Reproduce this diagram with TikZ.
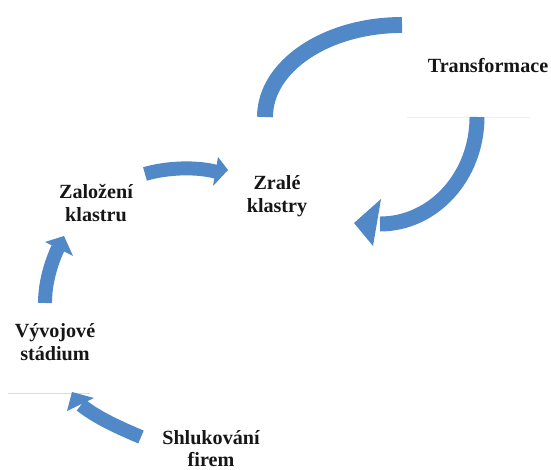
\documentclass[tikz,border=0pt]{standalone}
\usepackage{fontspec}
\setmainfont{Liberation Serif}
\definecolor{arrowblue}{RGB}{80,136,200}
\definecolor{labelink}{RGB}{22,22,22}
\definecolor{guideblue}{RGB}{205,222,242}
\definecolor{guidegrey}{RGB}{238,238,238}
\tikzset{
  stagetext/.style={font=\bfseries\fontsize{20.2}{23}\selectfont, text=labelink,
                    align=center, inner sep=0pt},
  shaft/.style={draw=arrowblue, line width=#1, line cap=butt},
  arrowhead/.style={fill=arrowblue, draw=none},
  guide/.style={draw=#1, line width=0.8bp},
}
\begin{document}
\begin{tikzpicture}[x=1bp,y=-1bp]
\useasboundingbox (0,0) rectangle (551,470);

% stage labels
\node[stagetext] (transf) at (488,65.2) {Transformace};
\node[stagetext] (zrale)  at (277,196.6) {Zralé\\klastry};
\node[stagetext] (zalo)   at (96,203) {Založení\\klastru};
\node[stagetext] (vyvoj)  at (55,342) {Vývojové\\stádium};
\node[stagetext] (shluk)  at (211,448.6) {Shlukování\\firem};

% faint text-box rules
\coordinate (gA) at (8,393);   \coordinate (gB) at (90,393);
\coordinate (gC) at (407,117); \coordinate (gD) at (530,117);
\draw[guide=guideblue] (gA) -- (gB);
\draw[guide=guidegrey] (gC) -- (gD);

% open arc above the mature clusters
\coordinate (arcTop) at (402,25);
\draw[shaft=16] (arcTop) arc[start angle=-90, end angle=-180, x radius=137, y radius=92];

% Transformace -> Zrale klastry
\coordinate (rStart) at (477,117);
\draw[shaft=15] (rStart) arc[start angle=0, end angle=90, x radius=97, y radius=107];
\fill[arrowhead] (354,223) -- (381,199) -- (373,246) -- cycle;

% Zalozeni klastru -> Zrale klastry
\coordinate (zStart) at (145,174);
\coordinate (zEnd) at (217,172);
\draw[shaft=14] (zStart) .. controls (165,168) and (195,166) .. (zEnd);
\fill[arrowhead] (228,170) -- (218,157) -- (213,186) -- cycle;

% Vyvojove stadium -> Zalozeni klastru
\coordinate (vStart) at (45,303);
\coordinate (vEnd) at (58,248);
\draw[shaft=14] (vStart) .. controls (45,283) and (51,263) .. (vEnd);
\fill[arrowhead] (64,236) -- (45,242) -- (73,256) -- cycle;

% Shlukovani firem -> Vyvojove stadium
\coordinate (sStart) at (141,437);
\coordinate (sEnd) at (81,405);
\draw[shaft=14] (sStart) .. controls (122,429) and (97,418) .. (sEnd);
\fill[arrowhead] (72,392) -- (67,411) -- (94,398) -- cycle;
\end{tikzpicture}
\end{document}
